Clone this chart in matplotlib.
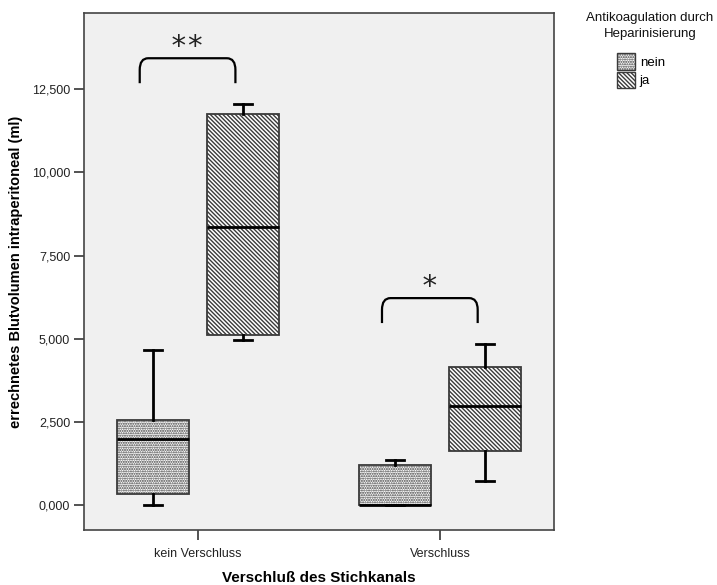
import numpy as np
import matplotlib
matplotlib.use("Agg")
import matplotlib.pyplot as plt
from matplotlib.patches import Patch, PathPatch
from matplotlib.path import Path
from matplotlib.ticker import FuncFormatter

plt.rcParams['font.family'] = ['Liberation Sans', 'DejaVu Sans']

# data
groups = ['kein Verschluss', 'Verschluss']
hue_labels = ['nein', 'ja']
# whisker low, Q1, median, Q3, whisker high
nein_stats = [[0.0, 0.33, 2.00, 2.55, 4.66],
              [0.0, 0.0, 0.0, 1.19, 1.35]]
ja_stats = [[4.96, 5.11, 8.37, 11.75, 12.05],
            [0.72, 1.62, 2.98, 4.15, 4.84]]
stars = ['**', '*']
bracket_low = [12.68, 5.47]
bracket_high = [13.43, 6.22]
star_y = [13.35, 6.14]
yticks = [0, 2.5, 5, 7.5, 10, 12.5]

fig = plt.figure(figsize=(7.17, 5.85), dpi=100)
ax = fig.add_axes([84/717, 1-530/585, (554-84)/717, (530-13)/585])
ax.set_facecolor('#f0f0f0')

edge = '#3a3a3a'
offs = 0.185
width = 0.296
hatches = ['.......', '\\' * 8]

def to_bxp(s):
    return dict(whislo=s[0], q1=s[1], med=s[2], q3=s[3], whishi=s[4], fliers=[])

for k, (stats, off, hatch) in enumerate(zip([nein_stats, ja_stats], [-offs, offs], hatches)):
    pos = np.arange(len(groups)) + off
    bp = ax.bxp([to_bxp(s) for s in stats], positions=pos, widths=width,
                patch_artist=True, showfliers=False, capwidths=0.075,
                boxprops=dict(facecolor='white', edgecolor=edge, linewidth=1.3, hatch=hatch),
                medianprops=dict(color='black', linewidth=2),
                whiskerprops=dict(color='black', linewidth=2),
                capprops=dict(color='black', linewidth=2))
    for b in bp['boxes']:
        b.set_zorder(2)

# significance brackets
for i in range(len(groups)):
    x0, x1 = i - 0.24, i + 0.155
    lo, hi = bracket_low[i], bracket_high[i]
    rx, ry = 0.035, 0.35
    verts = [(x0, lo), (x0, hi - ry), (x0, hi), (x0 + rx, hi),
             (x1 - rx, hi), (x1, hi), (x1, hi - ry), (x1, lo)]
    codes = [Path.MOVETO, Path.LINETO, Path.CURVE3, Path.CURVE3,
             Path.LINETO, Path.CURVE3, Path.CURVE3, Path.LINETO]
    ax.add_patch(PathPatch(Path(verts, codes), fill=False, edgecolor='black', linewidth=1.6))
    ax.text((x0 + x1) / 2, star_y[i], stars[i], ha='center', va='bottom',
            fontsize=21, family='DejaVu Sans Mono', color='#222222')

ax.set_xlim(-0.47, 1.47)
ax.set_ylim(-0.75, 14.79)
ax.set_xticks(range(len(groups)))
ax.set_xticklabels(groups)
ax.set_yticks(yticks)
ax.yaxis.set_major_formatter(FuncFormatter(lambda v, p: f"{v:,.3f}".replace('.', ',')))
ax.tick_params(axis='both', length=7, width=1.3, color='#444444', labelsize=9,
               labelcolor='#222222', pad=3)
ax.tick_params(axis='x', pad=6)
for sp in ax.spines.values():
    sp.set_color('#444444')
    sp.set_linewidth(1.2)

ax.set_xlabel('Verschluß des Stichkanals', fontsize=11, fontweight='bold', labelpad=8)
ax.set_ylabel('errechnetes Blutvolumen intraperitoneal (ml)', fontsize=10.5,
              fontweight='bold', labelpad=6)

fig.text(650/717, 1-12/585, 'Antikoagulation durch\nHeparinisierung', ha='center', va='top',
         multialignment='center', fontsize=9.5, linespacing=1.45, color='#111111')
handles = [Patch(facecolor='white', edgecolor=edge, hatch=h, linewidth=1) for h in hatches]
fig.legend(handles, hue_labels, loc='upper left', bbox_to_anchor=(608/717, 1-44/585),
           frameon=False, fontsize=9.5, handlelength=1.35, handleheight=1.55,
           handletextpad=0.35, labelspacing=0.15, borderpad=0.2)

fig.savefig('out.png', dpi=100, facecolor='white')
